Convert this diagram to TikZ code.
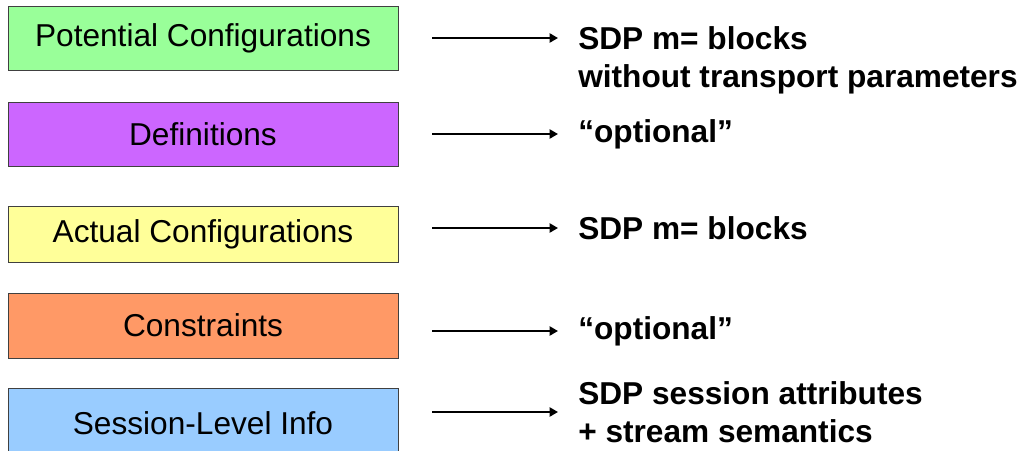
\documentclass[tikz,border=0pt]{standalone}
\usepackage{fontspec}
\setmainfont{Liberation Sans}
\usepackage{tikz}
\usepackage{xcolor}
\usetikzlibrary{arrows.meta, positioning}
\definecolor{layergreen}{rgb}{0.6, 1.0, 0.6}
\definecolor{layerpurple}{rgb}{0.8, 0.4, 1.0}
\definecolor{layeryellow}{rgb}{1.0, 1.0, 0.6}
\definecolor{layerorange}{rgb}{1.0, 0.6, 0.4}
\definecolor{layerblue}{rgb}{0.6, 0.8, 1.0}
\tikzset{layer/.style={draw=black!75, line width=0.6pt, minimum width=9.75cm, minimum height=1.6cm, inner sep=0pt, font=\fontsize{22.5}{27}\selectfont}}
\tikzset{layerc1/.style={layer, fill=layergreen}}
\tikzset{layerc2/.style={layer, fill=layerpurple}}
\tikzset{layerc3/.style={layer, fill=layeryellow, minimum height=1.39cm}}
\tikzset{layerc4/.style={layer, fill=layerorange, minimum height=1.625cm}}
\tikzset{layerc5/.style={layer, fill=layerblue, minimum height=1.75cm}}
\tikzset{sdp/.style={anchor=west, align=left, inner sep=0pt, font=\fontsize{22.5}{27}\selectfont\bfseries}}
\tikzset{link/.style={-{Triangle[length=6pt, width=6.5pt]}, line width=1.9pt, shorten <=0.85cm, shorten >=0.5cm}}

\begin{document}
\begin{tikzpicture}
            \useasboundingbox (0, 0) rectangle (25.675, -11.25);

            \node [layerc1] (L1) at (5.075, -0.95) { Potential Configurations };
            \node [layerc2] (L2) at (5.075, -3.35) { Definitions };
            \node [layerc3] (L3) at (5.075, -5.8625) { Actual Configurations };
            \node [layerc4] (L4) at (5.075, -8.1375) { Constraints };
            \node [layerc5] (L5) at (5.075, -10.575) { Session-Level Info };

            \node [sdp] (S1) at (14.45, -1.5) { SDP m= blocks\\without transport parameters };
            \node [sdp] (S2) at (14.45, -3.35) { “optional” };
            \node [sdp] (S3) at (14.45, -5.7) { SDP m= blocks };
            \node [sdp] (S4) at (14.45, -8.275) { “optional” };
            \node [sdp] (S5) at (14.45, -10.3) { SDP session attributes\\+ stream semantics };

            \coordinate (A1) at ([yshift=0.55cm]S1.west);

            \draw [link] (A1 -| L1.east) -- (A1);
            \draw [link] (S2.west -| L2.east) -- (S2.west);
            \draw [link] (S3.west -| L3.east) -- (S3.west);
            \draw [link] (S4.west -| L4.east) -- (S4.west);
            \draw [link] (S5.west -| L5.east) -- (S5.west);
        \end{tikzpicture}
\end{document}
